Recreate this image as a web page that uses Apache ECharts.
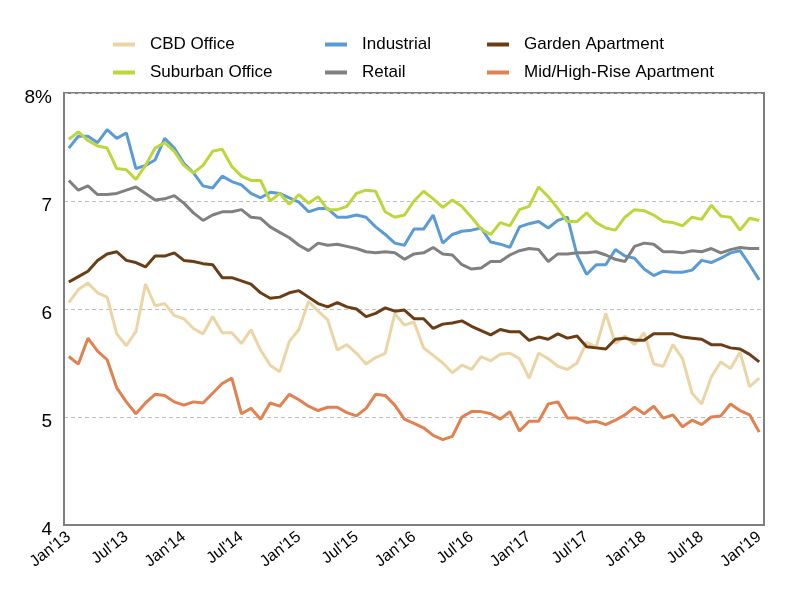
<!DOCTYPE html>
<html><head><meta charset="utf-8">
<script src="https://cdn.jsdelivr.net/npm/echarts@6/dist/echarts.min.js"></script>
<style>html,body{margin:0;padding:0;background:#fff}#c{width:800px;height:600px}</style>
</head><body><div id="c"></div>
<script>
const monthNames = ["Jan","Feb","Mar","Apr","May","Jun","Jul","Aug","Sep","Oct","Nov","Dec"];
const years = ["13","14","15","16","17","18","19"];
const categories = [];
years.forEach(y => monthNames.forEach(m => { if (categories.length < 73) categories.push(m + "'" + y); }));

const cbdOffice = [6.06,6.18,6.24,6.15,6.11,5.77,5.66,5.79,6.23,6.03,6.05,5.94,5.91,5.82,5.77,5.93,5.78,5.78,5.68,5.81,5.62,5.48,5.42,5.70,5.81,6.07,5.98,5.90,5.62,5.67,5.59,5.49,5.55,5.59,5.96,5.85,5.88,5.64,5.57,5.50,5.41,5.48,5.44,5.56,5.52,5.58,5.59,5.54,5.36,5.59,5.54,5.47,5.44,5.50,5.69,5.65,5.96,5.68,5.75,5.67,5.78,5.49,5.47,5.67,5.54,5.22,5.12,5.37,5.51,5.45,5.60,5.28,5.36];
const industrial = [7.49,7.60,7.60,7.54,7.66,7.58,7.63,7.30,7.33,7.38,7.58,7.49,7.35,7.26,7.14,7.12,7.23,7.18,7.15,7.07,7.03,7.08,7.07,7.03,6.99,6.90,6.93,6.93,6.85,6.85,6.87,6.85,6.76,6.69,6.61,6.59,6.74,6.74,6.87,6.61,6.69,6.72,6.73,6.75,6.62,6.60,6.57,6.76,6.79,6.81,6.75,6.82,6.85,6.50,6.32,6.41,6.41,6.55,6.49,6.47,6.37,6.31,6.35,6.34,6.34,6.36,6.45,6.43,6.47,6.52,6.54,6.41,6.27];
const gardenApartment = [6.25,6.30,6.35,6.45,6.51,6.53,6.45,6.43,6.39,6.49,6.49,6.52,6.45,6.44,6.42,6.41,6.29,6.29,6.26,6.23,6.15,6.10,6.11,6.15,6.17,6.11,6.05,6.02,6.06,6.02,6.00,5.93,5.96,6.01,5.98,5.99,5.91,5.91,5.82,5.86,5.87,5.89,5.84,5.80,5.76,5.81,5.79,5.79,5.71,5.74,5.72,5.77,5.73,5.75,5.65,5.64,5.63,5.72,5.73,5.71,5.71,5.77,5.77,5.77,5.74,5.73,5.72,5.67,5.67,5.64,5.63,5.58,5.51];
const suburbanOffice = [7.57,7.64,7.56,7.51,7.49,7.30,7.29,7.20,7.33,7.49,7.54,7.46,7.33,7.26,7.33,7.46,7.48,7.32,7.23,7.19,7.19,7.00,7.07,6.97,7.06,6.98,7.04,6.92,6.92,6.95,7.07,7.10,7.09,6.90,6.85,6.87,7.00,7.09,7.02,6.94,7.01,6.95,6.85,6.74,6.69,6.80,6.77,6.92,6.95,7.13,7.04,6.93,6.81,6.81,6.89,6.80,6.75,6.73,6.85,6.92,6.91,6.87,6.81,6.80,6.77,6.85,6.83,6.96,6.86,6.85,6.73,6.84,6.82];
const retail = [7.19,7.10,7.14,7.06,7.06,7.07,7.10,7.13,7.07,7.01,7.02,7.05,6.98,6.89,6.82,6.87,6.90,6.90,6.92,6.85,6.84,6.76,6.71,6.66,6.59,6.54,6.61,6.59,6.60,6.58,6.56,6.53,6.52,6.53,6.52,6.46,6.51,6.52,6.57,6.51,6.50,6.41,6.37,6.38,6.44,6.44,6.50,6.54,6.56,6.55,6.44,6.51,6.51,6.52,6.52,6.53,6.50,6.46,6.44,6.58,6.61,6.60,6.53,6.53,6.52,6.54,6.53,6.56,6.52,6.55,6.57,6.56,6.56];
const midHighRise = [5.56,5.49,5.73,5.61,5.53,5.27,5.14,5.03,5.13,5.21,5.20,5.14,5.11,5.14,5.13,5.22,5.31,5.36,5.03,5.08,4.98,5.13,5.10,5.21,5.16,5.10,5.06,5.09,5.09,5.04,5.01,5.08,5.21,5.20,5.11,4.98,4.94,4.90,4.83,4.79,4.82,5.00,5.05,5.05,5.03,4.98,5.05,4.87,4.96,4.96,5.12,5.14,4.99,4.99,4.95,4.96,4.93,4.97,5.02,5.09,5.03,5.10,4.99,5.02,4.91,4.97,4.93,5.00,5.01,5.12,5.06,5.02,4.86];

const FONT = "'Liberation Sans', Arial, sans-serif";
const chart = echarts.init(document.getElementById('c'), null, {renderer: 'canvas'});

function mk(name, data, color) {
  return {name, type: 'line', data, showSymbol: false, symbol: 'none',
    lineStyle: {color, width: 3}, itemStyle: {color}};
}
const legendBase = {orient: 'vertical', top: 31, itemWidth: 22, itemHeight: 4, itemGap: 11, icon: 'rect',
  textStyle: {fontFamily: FONT, fontSize: 17, color: '#000', padding: [0, 0, 0, 10]}};

chart.setOption({
  backgroundColor: '#fff',
  animation: false,
  legend: [
    Object.assign({left: 108, data: ['CBD Office', 'Suburban Office']}, legendBase),
    Object.assign({left: 320, data: ['Industrial', 'Retail']}, legendBase),
    Object.assign({left: 482, data: ['Garden Apartment', 'Mid/High-Rise Apartment']}, legendBase)
  ],
  grid: {left: 64, right: 36, top: 93, bottom: 75, show: true, borderColor: '#7f7f7f', borderWidth: 2, backgroundColor: 'transparent'},
  xAxis: {
    type: 'category', data: categories, boundaryGap: true,
    axisLine: {lineStyle: {color: '#7f7f7f', width: 2}},
    axisTick: {inside: true, length: 7, interval: 0, lineStyle: {color: '#7f7f7f', width: 1}},
    axisLabel: {interval: 5, rotate: 38, margin: 10, fontFamily: FONT, fontSize: 16, color: '#000'},
    splitLine: {show: false}
  },
  yAxis: {
    type: 'value', min: 4, max: 8, interval: 1,
    axisLine: {show: true, lineStyle: {color: '#7f7f7f', width: 2}},
    axisTick: {show: false},
    axisLabel: {margin: 12, color: '#000',
      formatter: v => '{a|' + (v === 8 ? '8%' : String(v)) + '}',
      rich: {a: {fontFamily: FONT, fontSize: 19, color: '#000', padding: [9, 0, 0, 0]}}},
    splitLine: {show: true, lineStyle: {color: '#bfbfbf', type: [4, 3], width: 1}}
  },
  series: [
    mk('CBD Office', cbdOffice, '#EBD5A5'),
    mk('Industrial', industrial, '#5B9BD5'),
    mk('Garden Apartment', gardenApartment, '#6B3D14'),
    mk('Suburban Office', suburbanOffice, '#BDD63B'),
    mk('Retail', retail, '#808080'),
    mk('Mid/High-Rise Apartment', midHighRise, '#E0814F')
  ]
});
</script></body></html>
